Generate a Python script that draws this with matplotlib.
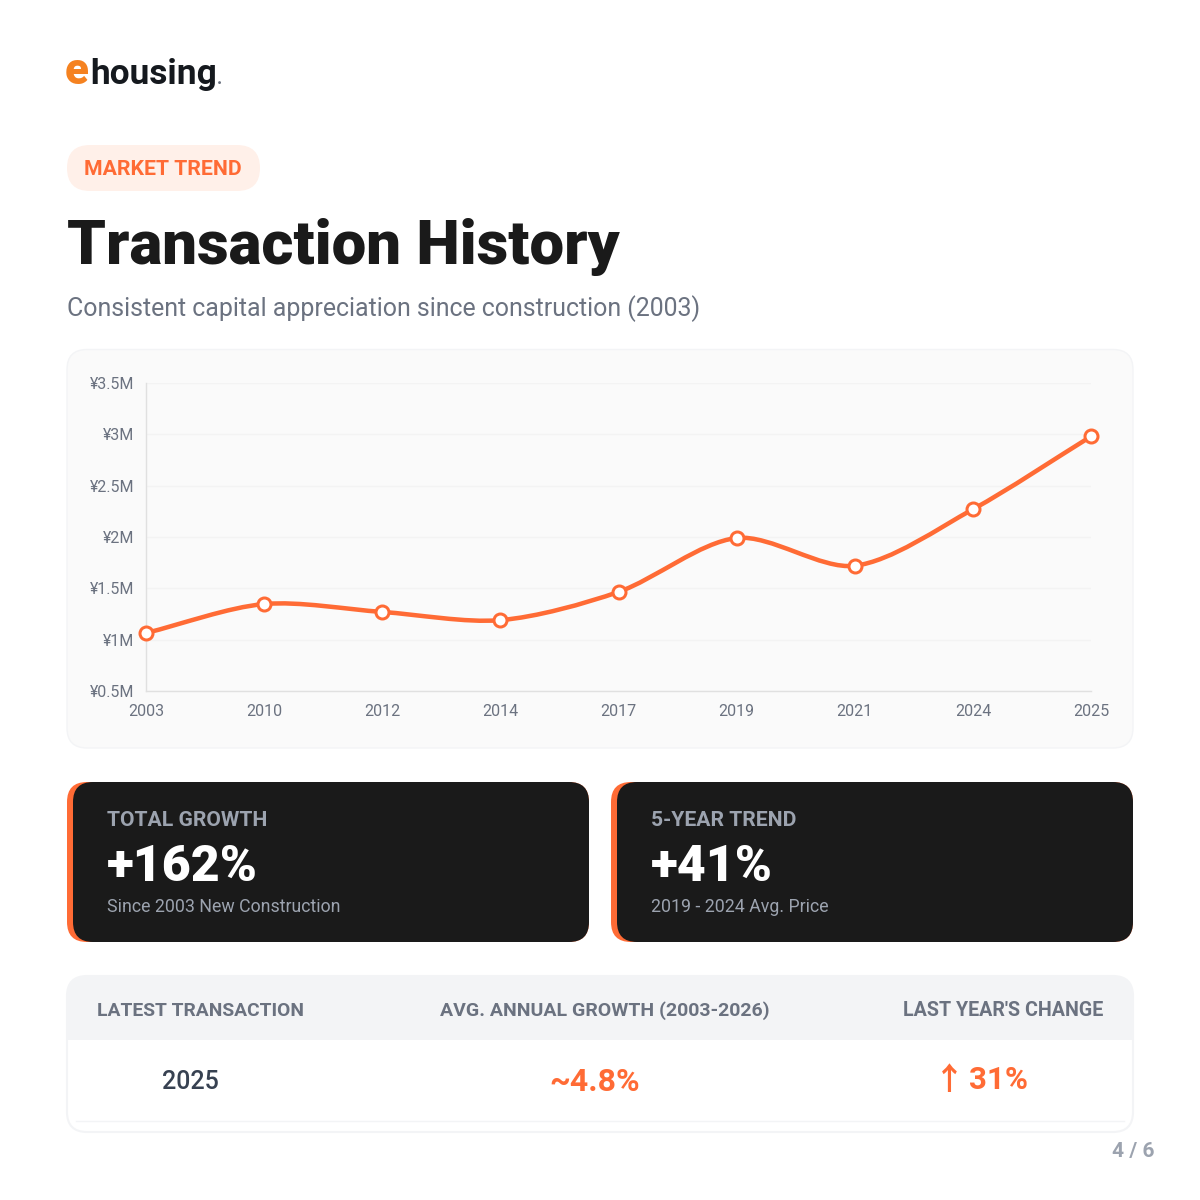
import matplotlib
matplotlib.use('Agg')
import matplotlib.pyplot as plt
from matplotlib.patches import FancyBboxPatch, Rectangle, PathPatch
from matplotlib.path import Path

years = ['2003', '2010', '2012', '2014', '2017', '2019', '2021', '2024', '2025']
prices = [1.065, 1.347, 1.27, 1.19, 1.465, 1.99, 1.72, 2.27, 2.98]
y_ticks = [0.5, 1, 1.5, 2, 2.5, 3, 3.5]
y_labels = ['¥0.5M', '¥1M', '¥1.5M', '¥2M', '¥2.5M', '¥3M', '¥3.5M']

ORANGE = '#FF6B35'
DARK = '#1A1A1A'
GREY = '#6B7280'
LIGHT = '#9CA3AF'

plt.rcParams['font.family'] = ['Roboto', 'DejaVu Sans']


def px(size):
    return size * 0.72


def box(ax, x0, y0, x1, y1, r, fc, ec='none', lw=0, z=1):
    p = FancyBboxPatch((x0 + r, y0 + r), x1 - x0 - 2 * r, y1 - y0 - 2 * r,
                       boxstyle=f'round,pad={r},rounding_size={r}',
                       fc=fc, ec=ec, lw=lw, zorder=z)
    ax.add_patch(p)
    return p


def label(ax, x, y, s, size, color, weight='normal', ha='left', **kw):
    ax.text(x, y, s, fontsize=px(size), color=color, fontweight=weight, ha=ha,
            va='baseline', zorder=5, **kw)


def smooth_path(values, step_px=118.1, unit_px=102.67, t=0.3):
    # same spline idea chart.js uses for line tension
    n = len(values)
    pts = [(i * step_px, v * unit_px) for i, v in enumerate(values)]
    before, after = [], []
    for i in range(n):
        p0 = pts[max(i - 1, 0)]
        p1 = pts[i]
        p2 = pts[min(i + 1, n - 1)]
        d01 = ((p1[0] - p0[0]) ** 2 + (p1[1] - p0[1]) ** 2) ** 0.5
        d12 = ((p2[0] - p1[0]) ** 2 + (p2[1] - p1[1]) ** 2) ** 0.5
        s01 = d01 / (d01 + d12)
        s12 = d12 / (d01 + d12)
        before.append((p1[0] - t * s01 * (p2[0] - p0[0]), p1[1] - t * s01 * (p2[1] - p0[1])))
        after.append((p1[0] + t * s12 * (p2[0] - p0[0]), p1[1] + t * s12 * (p2[1] - p0[1])))
    verts = [pts[0]]
    codes = [Path.MOVETO]
    for i in range(n - 1):
        verts += [after[i], before[i + 1], pts[i + 1]]
        codes += [Path.CURVE4] * 3
    verts = [(a / step_px, b / unit_px) for a, b in verts]
    return Path(verts, codes)


fig = plt.figure(figsize=(12, 12), dpi=100, facecolor='white')
bg = fig.add_axes([0, 0, 1, 1])
bg.set_xlim(0, 1200)
bg.set_ylim(1200, 0)
bg.axis('off')

# logo
label(bg, 65, 84.5, 'e', 44, '#F58220', 'black')
label(bg, 90.5, 84, 'housing', 35.2, '#15191E', 'bold')
label(bg, 216.5, 84, '.', 18, GREY, 'bold')

# header
box(bg, 67, 145, 260, 191, 23, '#FFF0E9')
label(bg, 84.5, 175, 'MARKET TREND', 21.3, ORANGE, 'bold')
label(bg, 67, 263.5, 'Transaction History', 61.8, DARK, 'black')
label(bg, 67, 316, 'Consistent capital appreciation since construction (2003)', 24.9, GREY)

# chart card
box(bg, 67, 349.5, 1133, 748, 20, '#FAFAFA', '#F3F4F6', 1)
ax = fig.add_axes([146 / 1200, (1200 - 691) / 1200, 945 / 1200, 308 / 1200])
ax.patch.set_alpha(0)
ax.set_xlim(0, len(years) - 1)
ax.set_ylim(0.5, 3.5)
ax.add_patch(PathPatch(smooth_path(prices), fill=False, ec=ORANGE, lw=px(4.5),
                       capstyle='round', clip_on=False, zorder=3))
ax.plot(range(len(years)), prices, ls='none', marker='o', ms=px(13), mfc='white',
        mec=ORANGE, mew=px(3), clip_on=False, zorder=4)
ax.set_xticks(range(len(years)))
ax.set_xticklabels(years)
ax.set_yticks(y_ticks)
ax.set_yticklabels(y_labels, va='center_baseline')
ax.tick_params(length=0, labelsize=px(16), labelcolor=GREY)
ax.tick_params(axis='x', pad=px(13.5))
ax.tick_params(axis='y', pad=px(12))
ax.grid(axis='y', color='#F3F3F3', lw=1)
ax.set_axisbelow(True)
for side in ['top', 'right']:
    ax.spines[side].set_visible(False)
for side in ['left', 'bottom']:
    ax.spines[side].set_color('#E0E0E0')
    ax.spines[side].set_linewidth(1)

# stat cards
stat_x = [67, 611]
stat_heads = ['TOTAL GROWTH', '5-YEAR TREND']
stat_values = ['+162%', '+41%']
stat_notes = ['Since 2003 New Construction', '2019 - 2024 Avg. Price']
for x, head, value, note in zip(stat_x, stat_heads, stat_values, stat_notes):
    box(bg, x, 782, x + 522, 942, 20, ORANGE, z=1)
    box(bg, x + 6, 782, x + 522, 942, 20, DARK, z=2)
    label(bg, x + 40, 825.5, head, 21.2, LIGHT, 'bold')
    label(bg, x + 40, 881, value, 50, 'white', 'black')
    label(bg, x + 40, 912, note, 17.7, LIGHT)

# bottom table
card = box(bg, 67, 976, 1133, 1132, 20, 'white', '#F3F4F6', 1.5)
band = Rectangle((67, 976), 1066, 64, fc='#F3F4F6', ec='none', zorder=2)
bg.add_patch(band)
band.set_clip_path(card)
bg.plot([76, 1124], [1121, 1121], color='#F3F4F6', lw=1, zorder=2)
label(bg, 97, 1016, 'LATEST TRANSACTION', 19.3, GREY, 'bold')
label(bg, 605, 1016, 'AVG. ANNUAL GROWTH (2003-2026)', 19.5, GREY, 'bold', ha='center')
label(bg, 1103.5, 1016, "LAST YEAR'S CHANGE", 19.6, GREY, 'bold', ha='right')
label(bg, 190, 1089, '2025', 25, '#374151', 'medium', ha='center')
label(bg, 595, 1091, '~4.8%', 32, ORANGE, 'bold', ha='center')
label(bg, 949.5, 1089, '↑', 31, ORANGE, 'bold', ha='center', family=['Noto Sans CJK SC', 'DejaVu Sans'])
label(bg, 969, 1089, '31%', 31.3, ORANGE, 'bold')
label(bg, 1155, 1157, '4 / 6', 21, LIGHT, 'bold', ha='right')

fig.savefig('out.png', dpi=100)
plt.close(fig)
